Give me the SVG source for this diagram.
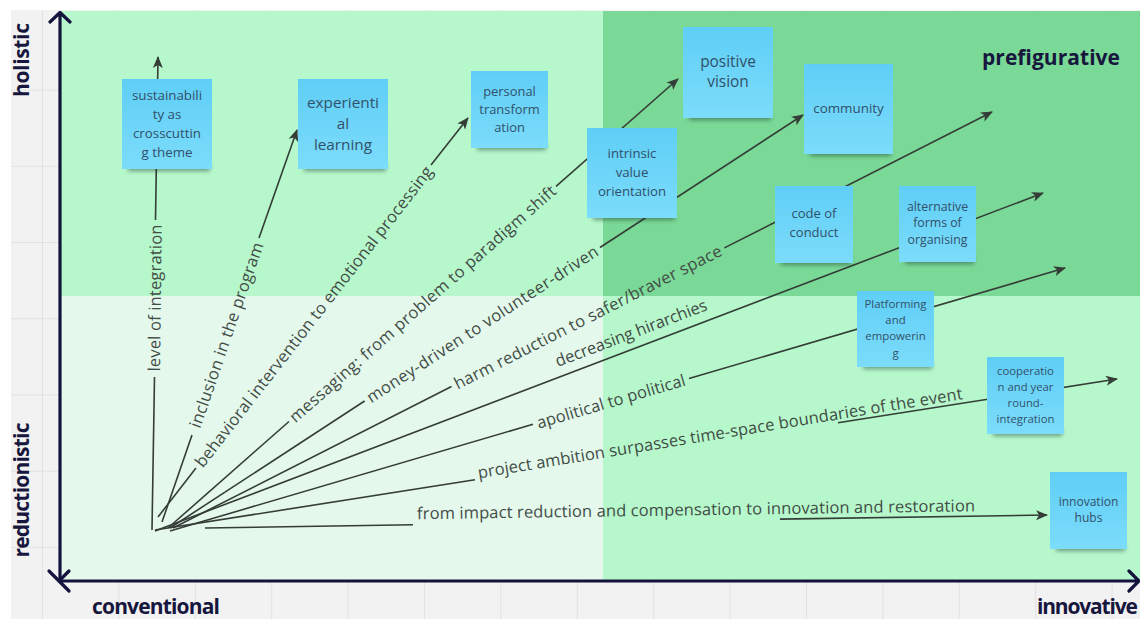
<svg xmlns="http://www.w3.org/2000/svg" width="1140" height="619" viewBox="0 0 1140 619">
<defs>
<style>
.grid{stroke:#e2e2e2;stroke-width:1}
.axis{stroke:#13133d;stroke-width:3.2;fill:none;stroke-linecap:round;stroke-linejoin:round}
.ax{font-family:"Open Sans","Liberation Sans",sans-serif;font-weight:700;font-size:21px;fill:#17173d}
.c{stroke:#343d37;stroke-width:1.6;fill:none}
.lbl{font-family:"Open Sans","Liberation Sans",sans-serif;font-size:16.5px;fill:#424c46;text-anchor:middle}
.note{fill:url(#ng)}
.sh{fill:#0c2a20;opacity:.45;filter:url(#blur)}
.nt{font-family:"Open Sans","Liberation Sans",sans-serif;fill:#31506a;text-anchor:middle}
</style>
<linearGradient id="ng" x1="0" y1="0" x2="0" y2="1"><stop offset="0" stop-color="#5fcef6"/><stop offset="1" stop-color="#7cdcfb"/></linearGradient>
<filter id="blur" x="-20%" y="-100%" width="140%" height="300%"><feGaussianBlur stdDeviation="2.2"/></filter>
<marker id="ah" viewBox="0 0 12 12" refX="11" refY="6" markerWidth="12" markerHeight="12" markerUnits="userSpaceOnUse" orient="auto"><path d="M0,1 L12,6 L0,11 L3,6z" fill="#343d37"/></marker>
</defs>
<rect width="1140" height="619" fill="#ffffff"/>
<rect x="11" y="10" width="1129" height="609" fill="#f2f2f2"/>
<g id="grid">
<path class="grid" d="M42.5,10V619M118.9,10V619M195.3,10V619M271.7,10V619M348.1,10V619M424.5,10V619M500.9,10V619M577.3,10V619M653.7,10V619M730.1,10V619M806.5,10V619M882.9,10V619M959.3,10V619M1035.7,10V619M1112.1,10V619"/>
<path class="grid" d="M11,90.2H1140M11,166.4H1140M11,242.6H1140M11,318.8H1140M11,395H1140M11,471.2H1140M11,547.4H1140"/>
</g>
<g id="zones">
<rect x="60" y="11" width="543" height="285" fill="#b6f7cb"/>
<rect x="603" y="11" width="537" height="285" fill="#7ad997"/>
<rect x="60" y="296" width="543" height="285" fill="#e4f8ec"/>
<rect x="603" y="296" width="537" height="285" fill="#b6f8cb"/>
</g>
<g id="axes">
<path class="axis" d="M60,581V13M50,22L60,12.5L70,22"/>
<path class="axis" d="M59,581H1138M1129,571L1139,581L1129,591"/>
<path class="axis" d="M49,571L59,581L69,571M69,571L59,581L69,591"/>
<text class="ax" transform="translate(29,60) rotate(-90)" text-anchor="middle" textLength="74">holistic</text>
<text class="ax" transform="translate(29,490) rotate(-90)" text-anchor="middle" textLength="135">reductionistic</text>
<text class="ax" x="92" y="614" font-size="20" textLength="128">conventional</text>
<text class="ax" x="1037" y="614" font-size="20" textLength="101">innovative</text>
<text class="ax" x="1051" y="65" text-anchor="middle" font-size="22" fill="#1b2820" textLength="138">prefigurative</text>
</g>
<g id="connectors">
<path class="c" d="M152,530L154.5,377"/><path class="c" d="M155.5,220L158,57" marker-end="url(#ah)"/>
<path class="c" d="M162,522L192,435"/><path class="c" d="M259,238L297,130" marker-end="url(#ah)"/>
<path class="c" d="M158,517L196,468"/><path class="c" d="M431,165L468,118" marker-end="url(#ah)"/>
<path class="c" d="M168,528L289,421.5"/><path class="c" d="M556,186.4L678,79" marker-end="url(#ah)"/>
<path class="c" d="M170,528L364.6,401"/><path class="c" d="M600,247.5L803,115" marker-end="url(#ah)"/>
<path class="c" d="M173,528L451.5,386.5"/><path class="c" d="M724.4,247.9L992,112" marker-end="url(#ah)"/>
<path class="c" d="M155,531L1043,193" marker-end="url(#ah)"/>
<path class="c" d="M170,531L533,424.2"/><path class="c" d="M689,378.6L1065,268" marker-end="url(#ah)"/>
<path class="c" d="M155,530L475,479.8"/><path class="c" d="M838,422.8L1117,379" marker-end="url(#ah)"/>
<path class="c" d="M205,528L413,524.8"/><path class="c" d="M780,519.1L1047,515" marker-end="url(#ah)"/>
<text class="lbl" transform="translate(155,298) rotate(-89.3)" dy=".35em" textLength="147">level of integration</text>
<text class="lbl" transform="translate(226.4,335) rotate(-71)" dy=".35em" textLength="195">inclusion in the program</text>
<text class="lbl" transform="translate(313.7,316.6) rotate(-52.15)" dy=".35em" textLength="376">behavioral intervention to emotional processing</text>
<text class="lbl" transform="translate(422.7,303.8) rotate(-41.36)" dy=".35em" textLength="349">messaging: from problem to paradigm shift</text>
<text class="lbl" transform="translate(482.3,324.2) rotate(-33.12)" dy=".35em" textLength="273">money-driven to volunteer-driven</text>
<text class="lbl" transform="translate(587.9,317.2) rotate(-26.93)" dy=".35em" textLength="298">harm reduction to safer/braver space</text>
<text class="lbl" transform="translate(631,333) rotate(-20.84)" dy=".35em" textLength="161">decreasing hirarchies</text>
<text class="lbl" transform="translate(611,401.4) rotate(-16.38)" dy=".35em" textLength="154">apolitical to political</text>
<text class="lbl" transform="translate(720,433) rotate(-9.3)" dy=".35em" textLength="491">project ambition surpasses time-space boundaries of the event</text>
<text class="lbl" transform="translate(696,509.5) rotate(-0.82)" dy=".35em" textLength="558">from impact reduction and compensation to innovation and restoration</text>
</g>
<g id="n-sustainability"><rect class="sh" x="128" y="163" width="82" height="8"/><rect class="note" x="122" y="79" width="90" height="90"/><text class="nt" font-size="13.3"><tspan x="167" y="99.7">sustainabili</tspan><tspan x="167" y="118.7">ty as</tspan><tspan x="167" y="137.7">crosscuttin</tspan><tspan x="167" y="156.7">g theme</tspan></text></g>
<g id="n-experiential"><rect class="sh" x="304" y="163" width="82" height="8"/><rect class="note" x="298" y="79" width="90" height="90"/><text class="nt" font-size="15.3"><tspan x="343" y="108.4">experienti</tspan><tspan x="343" y="129.4">al</tspan><tspan x="343" y="150.4">learning</tspan></text></g>
<g id="n-personal"><rect class="sh" x="477" y="142" width="69" height="8"/><rect class="note" x="471" y="71" width="77" height="77"/><text class="nt" font-size="12.9"><tspan x="509.5" y="95.5">personal</tspan><tspan x="509.5" y="113.5">transform</tspan><tspan x="509.5" y="131.5">ation</tspan></text></g>
<g id="n-positive"><rect class="sh" x="689" y="112" width="82" height="8"/><rect class="note" x="683" y="27" width="90" height="91"/><text class="nt" font-size="15.4"><tspan x="728" y="67.4">positive</tspan><tspan x="728" y="87.4">vision</tspan></text></g>
<g id="n-intrinsic"><rect class="sh" x="593" y="212" width="82" height="8"/><rect class="note" x="587" y="128" width="90" height="90"/><text class="nt" font-size="13.2"><tspan x="632" y="157.6">intrinsic</tspan><tspan x="632" y="176.6">value</tspan><tspan x="632" y="195.6">orientation</tspan></text></g>
<g id="n-community"><rect class="sh" x="810" y="148" width="81" height="8"/><rect class="note" x="804" y="64" width="89" height="90"/><text class="nt" font-size="13.4"><tspan x="848.5" y="112.7">community</tspan></text></g>
<g id="n-code"><rect class="sh" x="781" y="257" width="70" height="8"/><rect class="note" x="775" y="186" width="78" height="77"/><text class="nt" font-size="13"><tspan x="814" y="217.6">code of</tspan><tspan x="814" y="236.6">conduct</tspan></text></g>
<g id="n-alternative"><rect class="sh" x="905" y="256" width="69" height="8"/><rect class="note" x="899" y="186" width="77" height="76"/><text class="nt" font-size="12.3"><tspan x="937.5" y="211.3">alternative</tspan><tspan x="937.5" y="227.3">forms of</tspan><tspan x="937.5" y="244.3">organising</tspan></text></g>
<g id="n-platforming"><rect class="sh" x="863" y="361" width="69" height="8"/><rect class="note" x="857" y="291" width="77" height="76"/><text class="nt" font-size="11.4"><tspan x="895.5" y="308">Platforming</tspan><tspan x="895.5" y="324">and</tspan><tspan x="895.5" y="340">empowerin</tspan><tspan x="895.5" y="357">g</tspan></text></g>
<g id="n-cooperation"><rect class="sh" x="993" y="428" width="69" height="8"/><rect class="note" x="987" y="357" width="77" height="77"/><text class="nt" font-size="11.3"><tspan x="1025.5" y="375">cooperatio</tspan><tspan x="1025.5" y="391">n and year</tspan><tspan x="1025.5" y="407">round-</tspan><tspan x="1025.5" y="423">integration</tspan></text></g>
<g id="n-innovation"><rect class="sh" x="1056" y="543" width="69" height="8"/><rect class="note" x="1050" y="472" width="77" height="77"/><text class="nt" font-size="12"><tspan x="1088.5" y="506.2">innovation</tspan><tspan x="1088.5" y="522.2">hubs</tspan></text></g>
</svg>
